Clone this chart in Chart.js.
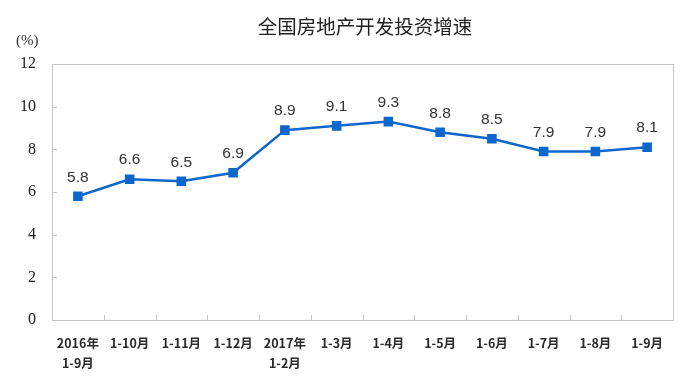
<!DOCTYPE html>
<html>
<head>
<meta charset="utf-8">
<script src="https://cdn.jsdelivr.net/npm/chart.js@4/dist/chart.umd.min.js"></script>
<style>
  body { margin: 0; background: #fff; }
  #wrap { position: relative; width: 689px; height: 386px; }
  #title { position: absolute; left: 365px; transform: translateX(-50%); top: 11px; white-space: nowrap;
    font: 19.5px "Noto Sans CJK SC", sans-serif; color: #222; }
  #unit { position: absolute; left: 16px; top: 32px; font: 15px "Liberation Serif", serif; color: #333; }
</style>
</head>
<body>
<div id="wrap">
  <div id="title">全国房地产开发投资增速</div>
  <div id="unit">(%)</div>
  <canvas id="chart" width="689" height="386"></canvas>
</div>
<script>
const categories = [
  ["2016年", "1-9月"], "1-10月", "1-11月", "1-12月", ["2017年", "1-2月"],
  "1-3月", "1-4月", "1-5月", "1-6月", "1-7月", "1-8月", "1-9月"
];
const growthValues = [5.8, 6.6, 6.5, 6.9, 8.9, 9.1, 9.3, 8.8, 8.5, 7.9, 7.9, 8.1];
const yTicks = [0, 2, 4, 6, 8, 10, 12];

const lineColor = "#0d66cc";
const boxColor = "#c4c4c4";

// 테두리, 안쪽 눈금, 값 라벨
const decorPlugin = {
  id: "decor",
  beforeDatasetsDraw(chart) {
    const { ctx, chartArea: a, scales } = chart;
    ctx.save();
    ctx.strokeStyle = boxColor;
    ctx.lineWidth = 1;
    ctx.strokeRect(a.left + 0.5, a.top + 0.5, a.right - a.left, a.bottom - a.top);
    // y 눈금 (안쪽)
    ctx.beginPath();
    yTicks.forEach((v) => {
      const y = Math.round(scales.y.getPixelForValue(v)) + 0.5;
      ctx.moveTo(a.left, y);
      ctx.lineTo(a.left + 5, y);
    });
    // x 카테고리 경계 눈금 (안쪽)
    for (let i = 1; i < categories.length; i++) {
      const x = Math.round((scales.x.getPixelForValue(i - 1) + scales.x.getPixelForValue(i)) / 2) + 0.5;
      ctx.moveTo(x, a.bottom);
      ctx.lineTo(x, a.bottom - 5);
    }
    ctx.stroke();
    ctx.restore();
  },
  afterDatasetsDraw(chart) {
    const { ctx } = chart;
    const meta = chart.getDatasetMeta(0);
    ctx.save();
    ctx.font = '15.5px "Liberation Sans", Arial, sans-serif';
    ctx.fillStyle = "#333";
    ctx.textAlign = "center";
    ctx.textBaseline = "middle";
    meta.data.forEach((pt, i) => {
      ctx.fillText(growthValues[i].toFixed(1), pt.x, pt.y - 19);
    });
    ctx.restore();
  }
};

new Chart(document.getElementById("chart"), {
  type: "line",
  data: {
    labels: categories,
    datasets: [{
      data: growthValues,
      borderColor: lineColor,
      backgroundColor: lineColor,
      borderWidth: 2.5,
      pointStyle: "rect",
      pointRadius: 5,
      pointHoverRadius: 5,
      tension: 0
    }]
  },
  options: {
    responsive: false,
    animation: false,
    layout: { padding: { top: 64, right: 16, left: 0, bottom: 0 } },
    plugins: { legend: { display: false }, tooltip: { enabled: false } },
    scales: {
      x: {
        offset: true,
        grid: { display: false },
        border: { display: false },
        ticks: {
          padding: 6,
          color: "#2a2a2a",
          maxRotation: 0,
          autoSkip: false,
          font: { family: '"Noto Sans CJK SC", sans-serif', size: 12.5, weight: "bold", lineHeight: 1.55 }
        },
        afterFit: (s) => { s.height = 66; }
      },
      y: {
        min: 0,
        max: 12,
        afterBuildTicks: (s) => { s.ticks = yTicks.map((v) => ({ value: v })); },
        grid: { display: false },
        border: { display: false },
        ticks: {
          padding: 8,
          color: "#222",
          font: { family: '"Liberation Serif", serif', size: 16 }
        },
        afterFit: (s) => { s.width = 52; }
      }
    }
  },
  plugins: [decorPlugin]
});
</script>
</body>
</html>
